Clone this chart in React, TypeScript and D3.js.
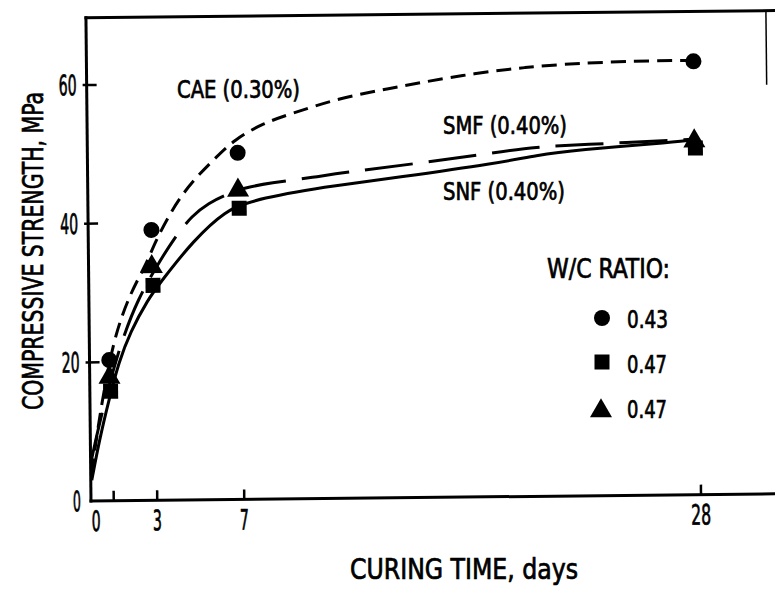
import React from "react";
import * as d3 from "d3";

// ---- data ----
const markerDays = [1, 3, 7, 28];
const caeMarkers = [20.3, 39.0, 50.0, 62.5]; // circles, W/C 0.43
const snfMarkers = [15.8, 31.0, 42.0, 50.0]; // squares, W/C 0.47
const smfMarkers = [17.8, 33.7, 44.6, 51.0]; // triangles, W/C 0.47

const caeCurveDays = [0, 0.3, 0.7, 1.15, 1.84, 2.6, 3.03, 3.72, 4.28, 4.97, 5.75, 6.7, 8.1, 9.4, 11.3, 13.4, 15.4, 17.8, 20.1, 22.4, 26.3, 28];
const caeCurveValues = [4, 10.5, 17.5, 24.0, 29.8, 34.0, 37.3, 41.3, 44.0, 46.6, 49.0, 51.9, 54.3, 55.6, 57.5, 58.8, 59.9, 61.1, 61.9, 62.4, 62.7, 62.6];

const smfCurveDays = [0, 0.4, 1, 1.5, 2.2, 3.13, 3.95, 4.74, 5.5, 6.34, 7.1, 8.3, 10.5, 11.4, 15.2, 18.8, 20.6, 22.4, 28];
const smfCurveValues = [6, 11.5, 18.5, 23.5, 29.0, 34.0, 38.0, 41.0, 42.8, 44.0, 44.9, 45.6, 46.4, 46.9, 48.2, 49.7, 50.4, 50.6, 51.3];

const snfCurveDays = [0, 0.37, 0.83, 1.3, 1.84, 2.67, 3.27, 4.8, 6.34, 7.26, 8, 9.56, 11.1, 14.2, 18.8, 20.6, 22.4, 27, 28];
const snfCurveValues = [3, 8.8, 14.6, 20.0, 24.3, 29.0, 31.5, 37.5, 41.8, 42.7, 43.4, 44.3, 45.0, 46.2, 48.1, 49.2, 49.9, 50.9, 51.2];

const yTicks = [0, 20, 40, 60];
const xTicks = [1, 3, 7, 28];
const xTickLabels = [0, 3, 7, 28];

const curveLabels = ["CAE (0.30%)", "SMF (0.40%)", "SNF (0.40%)"];
const legendTitle = "W/C RATIO:";
const legendLabels = ["0.43", "0.47", "0.47"];
const xTitle = "CURING TIME, days";
const yTitle = "COMPRESSIVE STRENGTH, MPa";

const FONT =
  "'Liberation Sans Narrow', 'DejaVu Sans Condensed', 'Liberation Sans', Arial, sans-serif";

type P = [number, number];
const toPts = (days: number[], vals: number[]): P[] => days.map((d, i) => [d, vals[i]]);

export default function App() {
  const W = 775;
  const H = 589;
  const x = d3.scaleLinear().domain([0, 31.4]).range([92, 775]);
  const y = d3.scaleLinear().domain([0, 60]).range([501, 85]);
  const yTop = y(69.7);

  const line = d3
    .line<P>()
    .x((d) => x(d[0]))
    .y((d) => y(d[1]))
    .curve(d3.curveBasis);

  const tri = d3.symbol(d3.symbolTriangle, 210)() as string;
  const sq = d3.symbol(d3.symbolSquare, 225)() as string;

  const txt = (
    s: string,
    px: number,
    py: number,
    size: number,
    len: number,
    anchor: string = "start",
    extra: any = {}
  ) => (
    <text
      x={px}
      y={py}
      fontSize={size}
      fontFamily={FONT}
      fontWeight="normal"
      textAnchor={anchor}
      textLength={len}
      lengthAdjust="spacingAndGlyphs"
      fill="#000"
      stroke="#000"
      strokeWidth={0.7}
      {...extra}
    >
      {s}
    </text>
  );

  return (
    <svg
      width={W}
      height={H}
      viewBox={`0 0 ${W} ${H}`}
      style={{ position: "absolute", left: 0, top: 0, background: "#fff" }}
    >
      <rect x={0} y={0} width={W} height={H} fill="#fff" />
      <g transform={`rotate(-0.6, ${x(0)}, ${y(0)})`}>
        {/* frame */}
        <line x1={91} x2={91} y1={y(0) + 1.5} y2={yTop - 1.5} stroke="#000" strokeWidth={3} />
        <line x1={89.5} x2={790} y1={y(0)} y2={y(0)} stroke="#000" strokeWidth={3} />
        <line x1={89.5} x2={790} y1={yTop} y2={yTop} stroke="#000" strokeWidth={3} />
        <line x1={771} x2={771} y1={yTop} y2={y(59)} stroke="#000" strokeWidth={1.5} />
        {/* y ticks */}
        {yTicks
          .filter((t) => t > 0)
          .map((t) => (
            <line key={"yt" + t} x1={87} x2={101} y1={y(t)} y2={y(t)} stroke="#000" strokeWidth={2.5} />
          ))}
        {yTicks.map((t) => (
          <React.Fragment key={"yl" + t}>
            {txt(String(t), 81, y(t) + 10, 28, t === 0 ? 8 : 18, "end")}
          </React.Fragment>
        ))}
        {/* x ticks */}
        {xTicks.map((t) => (
          <line key={"xt" + t} x1={x(t)} x2={x(t)} y1={y(0)} y2={y(0) - 10} stroke="#000" strokeWidth={2.5} />
        ))}
        {xTickLabels.map((t) => (
          <React.Fragment key={"xl" + t}>
            {txt(String(t), t === 0 ? x(0) + 4 : x(t), 531, 28, t === 28 ? 20 : 9, "middle")}
          </React.Fragment>
        ))}
        {/* curves */}
        <path
          d={line(toPts(snfCurveDays, snfCurveValues)) as string}
          fill="none"
          stroke="#000"
          strokeWidth={3}
        />
        <path
          d={line(toPts(smfCurveDays, smfCurveValues)) as string}
          fill="none"
          stroke="#000"
          strokeWidth={3}
          strokeDasharray="48 16"
        />
        <path
          d={line(toPts(caeCurveDays, caeCurveValues)) as string}
          fill="none"
          stroke="#000"
          strokeWidth={3}
          strokeDasharray="15 8"
        />
        {/* markers */}
        {markerDays.map((d, i) => (
          <path key={"sq" + d} d={sq} transform={`translate(${x(d) - 2},${y(snfMarkers[i])})`} fill="#000" />
        ))}
        {markerDays.map((d, i) => (
          <path key={"tr" + d} d={tri} transform={`translate(${x(d) - 3},${y(smfMarkers[i])})`} fill="#000" />
        ))}
        {markerDays.map((d, i) => (
          <circle key={"ci" + d} cx={x(d) - 3} cy={y(caeMarkers[i])} r={8} fill="#000" />
        ))}
      </g>

      {/* curve labels */}
      {txt(curveLabels[0], 177, 98, 24, 123)}
      {txt(curveLabels[1], 443, 134, 24, 124)}
      {txt(curveLabels[2], 443, 200, 24, 122)}

      {/* legend */}
      {txt(legendTitle, 547, 278, 26, 123)}
      <circle cx={602} cy={318} r={8} fill="#000" />
      <path d={sq} transform="translate(602,362)" fill="#000" />
      <path d={tri} transform="translate(601,411)" fill="#000" />
      {txt(legendLabels[0], 627, 328, 25, 41)}
      {txt(legendLabels[1], 627, 373, 25, 40)}
      {txt(legendLabels[2], 627, 418, 25, 40)}

      {/* axis titles */}
      {txt(xTitle, 350, 579, 28, 228)}
      {txt(yTitle, 0, 0, 29, 318, "middle", { transform: "translate(43,251) rotate(-90)" })}
    </svg>
  );
}
